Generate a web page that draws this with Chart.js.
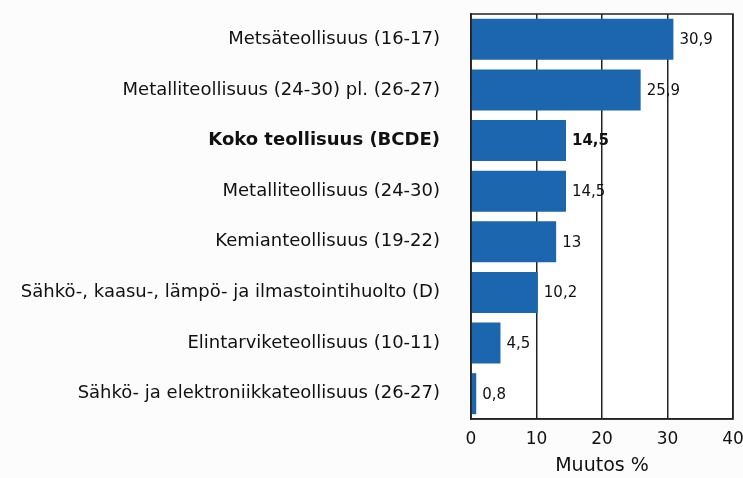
<!DOCTYPE html>
<html>
<head>
<meta charset="utf-8">
<script src="https://cdn.jsdelivr.net/npm/chart.js@4"></script>
<style>
  html, body { margin: 0; padding: 0; background: #fcfcfc; }
  #wrap { width: 743px; height: 478px; }
</style>
</head>
<body>
<div id="wrap"><canvas id="barChart" width="743" height="478"></canvas></div>
<script>
const categories = [
  'Metsäteollisuus (16-17)',
  'Metalliteollisuus (24-30) pl. (26-27)',
  'Koko teollisuus (BCDE)',
  'Metalliteollisuus (24-30)',
  'Kemianteollisuus (19-22)',
  'Sähkö-, kaasu-, lämpö- ja ilmastointihuolto (D)',
  'Elintarviketeollisuus (10-11)',
  'Sähkö- ja elektroniikkateollisuus (26-27)'
];
const values = [30.9, 25.9, 14.5, 14.5, 13, 10.2, 4.5, 0.8];
const xTicks = [0, 10, 20, 30, 40];
const boldIndex = 2;

const fontFamily = '"DejaVu Sans", Verdana, sans-serif';

// white plot area + black frame around it
const frame = {
  id: 'frame',
  beforeDraw(chart) {
    const a = chart.chartArea, c = chart.ctx;
    c.save();
    c.fillStyle = '#ffffff';
    c.fillRect(a.left, a.top, a.right - a.left, a.bottom - a.top);
    c.restore();
  },
  afterDraw(chart) {
    const a = chart.chartArea, c = chart.ctx;
    c.save();
    c.strokeStyle = '#222';
    c.lineWidth = 1.5;
    c.strokeRect(a.left, a.top, a.right - a.left, a.bottom - a.top);
    c.restore();
  }
};

// value labels next to the bar ends
const valueLabels = {
  id: 'valueLabels',
  afterDatasetsDraw(chart) {
    const c = chart.ctx;
    const meta = chart.getDatasetMeta(0);
    c.save();
    c.fillStyle = '#111';
    c.textBaseline = 'middle';
    c.textAlign = 'left';
    meta.data.forEach((bar, i) => {
      c.font = (i === boldIndex ? 'bold ' : '') + '15px ' + fontFamily;
      c.fillText(String(values[i]).replace('.', ','), bar.x + 6, bar.y + 1);
    });
    c.restore();
  }
};

new Chart(document.getElementById('barChart').getContext('2d'), {
  type: 'bar',
  data: {
    labels: categories,
    datasets: [{
      data: values,
      backgroundColor: '#1b66ae',
      borderWidth: 0,
      barPercentage: 0.9,
      categoryPercentage: 0.9
    }]
  },
  options: {
    indexAxis: 'y',
    responsive: false,
    animation: false,
    layout: { padding: { top: 14, right: 10, bottom: 0, left: 0 } },
    plugins: {
      legend: { display: false },
      tooltip: { enabled: false }
    },
    scales: {
      x: {
        min: 0,
        max: 40,
        afterBuildTicks: (axis) => { axis.ticks = xTicks.map(v => ({ value: v })); },
        afterFit: (scale) => {
          scale.height = 59;
          scale.paddingLeft = 0;
          scale.paddingRight = 0;
        },
        grid: { color: '#222', lineWidth: 1.5, drawTicks: false },
        border: { color: '#222', width: 1.5 },
        ticks: {
          color: '#111',
          padding: 10,
          font: { family: fontFamily, size: 17 }
        },
        title: {
          display: true,
          text: 'Muutos %',
          color: '#111',
          padding: { top: 5, bottom: 1 },
          font: { family: fontFamily, size: 19 }
        }
      },
      y: {
        afterFit: (scale) => {
          scale.width = 471;
          scale.paddingTop = 0;
          scale.paddingBottom = 0;
        },
        grid: { display: false, drawTicks: false },
        border: { color: '#222', width: 1.5 },
        ticks: {
          color: '#111',
          padding: 31,
          font: (ctx) => ({
            family: fontFamily,
            size: 18,
            weight: ctx.index === boldIndex ? 'bold' : 'normal'
          })
        }
      }
    }
  },
  plugins: [frame, valueLabels]
});
</script>
</body>
</html>
